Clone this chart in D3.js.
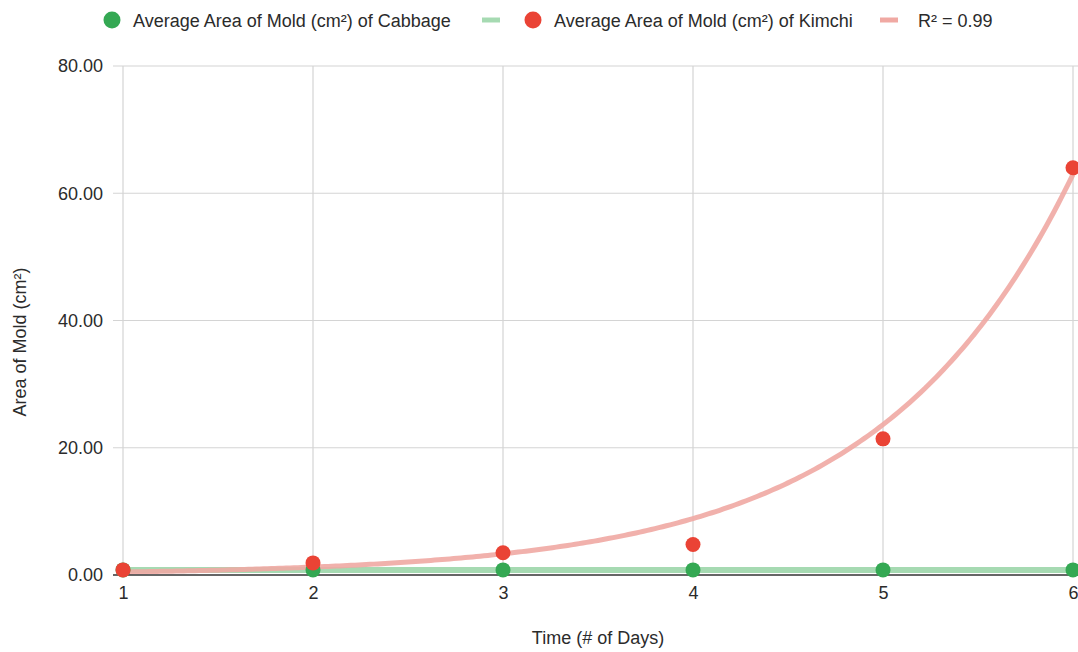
<!DOCTYPE html>
<html>
<head>
<meta charset="utf-8">
<script src="https://cdn.jsdelivr.net/npm/d3@7"></script>
<style>
  body { margin: 0; background: #fff; }
  text { font-family: "Liberation Sans", Arial, sans-serif; fill: #2b2b2b; }
</style>
</head>
<body>
<svg id="chart"></svg>
<script>
var days = [1, 2, 3, 4, 5, 6];
var cabbage = [0.8, 0.8, 0.8, 0.8, 0.8, 0.8];
var kimchi = [0.8, 1.9, 3.5, 4.8, 21.4, 64.0];
var yTicks = [0, 20, 40, 60, 80];
// exponential trendline: y = a * e^(b * x)
var trendA = 0.176, trendB = 0.98;
var seriesNames = ['Average Area of Mold (cm²) of Cabbage', 'Average Area of Mold (cm²) of Kimchi'];

var width = 1078, height = 652;

var svg = d3.select('#chart')
  .attr('width', width)
  .attr('height', height);

var xScale = d3.scaleLinear()
  .domain([1, 6])
  .range([123, 1073]);
var yScale = d3.scaleLinear()
  .domain([0, 80])
  .range([575, 66]);

// gridlines
svg.append('g')
  .selectAll('line')
  .data(yTicks.slice(1))
  .enter()
  .append('line')
    .attr('x1', 113).attr('x2', width)
    .attr('y1', d => yScale(d)).attr('y2', d => yScale(d))
    .attr('stroke', '#d4d4d4').attr('stroke-width', 1.2);
svg.append('g')
  .selectAll('line')
  .data(days)
  .enter()
  .append('line')
    .attr('x1', d => xScale(d)).attr('x2', d => xScale(d))
    .attr('y1', yScale(80)).attr('y2', yScale(0))
    .attr('stroke', '#d4d4d4').attr('stroke-width', 1.2);

// axes (labels only, baseline drawn above the marks)
var yAxis = d3.axisLeft(yScale)
  .tickValues(yTicks)
  .tickFormat(d3.format('.2f'))
  .tickSize(0)
  .tickPadding(10);
var gy = svg.append('g')
  .attr('transform', 'translate(113,0)')
  .call(yAxis);
gy.select('.domain').remove();
gy.selectAll('text').style('font-size', '18px').attr('fill', '#2b2b2b');

var xAxis = d3.axisBottom(xScale)
  .tickValues(days)
  .tickFormat(d3.format('d'))
  .tickSize(0)
  .tickPadding(11);
var gx = svg.append('g')
  .attr('transform', 'translate(0,' + yScale(0) + ')')
  .call(xAxis);
gx.select('.domain').remove();
gx.selectAll('text').style('font-size', '18px').attr('fill', '#2b2b2b');

// trendlines
var fine = d3.range(1, 6.001, 0.02);
svg.append('path')
  .datum(days)
  .attr('d', d3.line().x(d => xScale(d)).y(d => yScale(d3.mean(cabbage))))
  .attr('fill', 'none')
  .attr('stroke', '#a6dab2')
  .attr('stroke-width', 6);
svg.append('path')
  .datum(fine)
  .attr('d', d3.line().x(d => xScale(d)).y(d => yScale(trendA * Math.exp(trendB * d))))
  .attr('fill', 'none')
  .attr('stroke', '#f0a9a3')
  .attr('stroke-width', 5)
  .attr('stroke-opacity', 0.9);

// baseline
svg.append('line')
  .attr('x1', 113).attr('x2', width)
  .attr('y1', yScale(0)).attr('y2', yScale(0))
  .attr('stroke', '#333').attr('stroke-width', 1.3);

// points
svg.append('g')
  .selectAll('circle')
  .data(days)
  .enter()
  .append('circle')
    .attr('cx', d => xScale(d))
    .attr('cy', (d, i) => yScale(cabbage[i]))
    .attr('r', 7.5)
    .attr('fill', '#34a853');
svg.append('g')
  .selectAll('circle')
  .data(days)
  .enter()
  .append('circle')
    .attr('cx', d => xScale(d))
    .attr('cy', (d, i) => yScale(kimchi[i]))
    .attr('r', 7.5)
    .attr('fill', '#ea4335');

// axis titles
svg.append('text')
  .attr('x', 598)
  .attr('y', 644)
  .style('text-anchor', 'middle')
  .style('font-size', '18px')
  .text('Time (# of Days)');
svg.append('text')
  .attr('transform', 'translate(26,342) rotate(-90)')
  .style('text-anchor', 'middle')
  .style('font-size', '18px')
  .text('Area of Mold (cm²)');

// legend
var legend = svg.append('g').attr('transform', 'translate(0,20)');
legend.append('circle').attr('cx', 112).attr('cy', 0).attr('r', 8.5).attr('fill', '#34a853');
legend.append('text').attr('x', 133).attr('y', 6.5).style('font-size', '18px').text(seriesNames[0]);
legend.append('line').attr('x1', 482).attr('x2', 500).attr('y1', 0).attr('y2', 0)
  .attr('stroke', '#a6dab2').attr('stroke-width', 5);
legend.append('circle').attr('cx', 533).attr('cy', 0).attr('r', 8.5).attr('fill', '#ea4335');
legend.append('text').attr('x', 554).attr('y', 6.5).style('font-size', '18px').text(seriesNames[1]);
legend.append('line').attr('x1', 880).attr('x2', 898).attr('y1', 0).attr('y2', 0)
  .attr('stroke', '#f0a9a3').attr('stroke-width', 5);
legend.append('text').attr('x', 918).attr('y', 6.5).style('font-size', '18px').text('R² = 0.99');
</script>
</body>
</html>
